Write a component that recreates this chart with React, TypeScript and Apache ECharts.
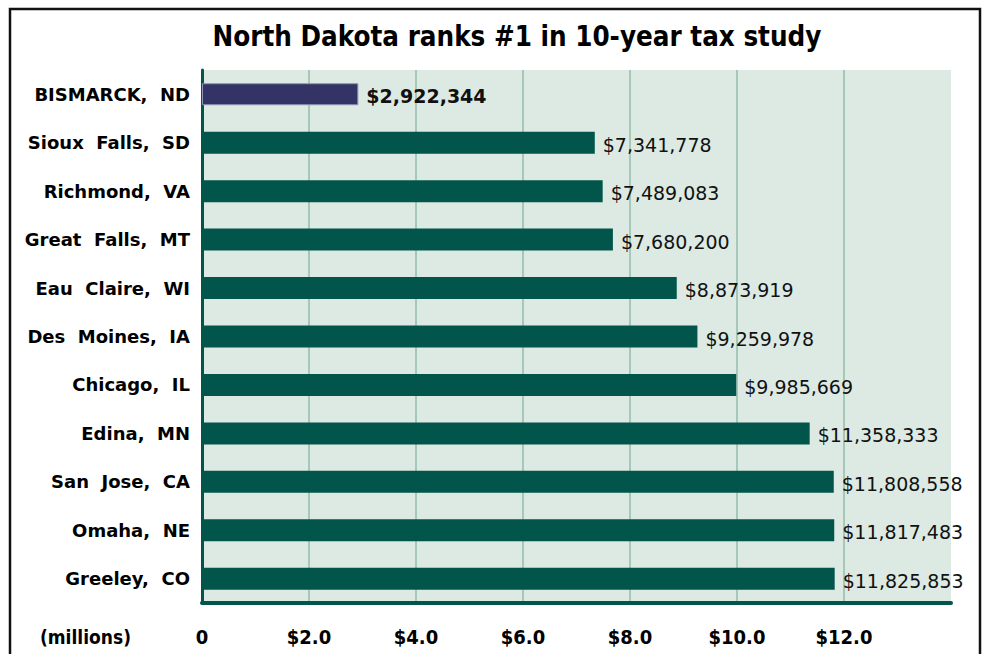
import React, { useEffect, useRef } from "react";
import * as echarts from "echarts";

const cities = [
  "BISMARCK,  ND",
  "Sioux  Falls,  SD",
  "Richmond,  VA",
  "Great  Falls,  MT",
  "Eau  Claire,  WI",
  "Des  Moines,  IA",
  "Chicago,  IL",
  "Edina,  MN",
  "San  Jose,  CA",
  "Omaha,  NE",
  "Greeley,  CO",
];
const taxes = [
  2922344, 7341778, 7489083, 7680200, 8873919, 9259978, 9985669, 11358333,
  11808558, 11817483, 11825853,
];
const titleText = "North Dakota ranks #1 in 10-year tax study";
const unitText = "(millions)";

const condensed = '"Liberation Sans Narrow", "DejaVu Sans Condensed", "Roboto", sans-serif';
const labelFont = '"DejaVu Sans", "Liberation Sans", sans-serif';

export default function App() {
  const ref = useRef<HTMLDivElement>(null);
  useEffect(() => {
    if (!ref.current) return;
    const chart = echarts.init(ref.current, null, { renderer: "svg" });
    const data = taxes.map((v, i) => {
      const item: any = { value: v / 1e6, raw: v };
      if (i === 0) {
        item.itemStyle = { color: "#333366", borderColor: "#8f93b8", borderWidth: 1 };
        item.label = { fontWeight: "bold" };
      }
      return item;
    });
    chart.setOption({
      animation: false,
      backgroundColor: "#ffffff",
      title: {
        text: titleText,
        left: 512,
        textAlign: "center",
        top: 17,
        textStyle: {
          fontFamily: condensed,
          fontWeight: "bold",
          fontSize: 27.5,
          color: "#000",
        },
      },
      graphic: [
        {
          type: "rect",
          shape: { x: 10, y: 9, width: 970, height: 660 },
          style: { fill: "none", stroke: "#111", lineWidth: 2.5 },
          silent: true,
        },
        {
          type: "text",
          x: 40,
          y: 637,
          style: {
            text: unitText,
            fontFamily: condensed,
            fontSize: 19,
            fontWeight: "bold",
            fill: "#000",
            verticalAlign: "middle",
          },
        },
      ],
      grid: {
        left: 202,
        right: 36,
        top: 70,
        bottom: 51,
        show: true,
        backgroundColor: "#dceae3",
        borderWidth: 0,
      },
      xAxis: {
        type: "value",
        min: 0,
        max: 14,
        interval: 2,
        axisLine: { show: true, lineStyle: { color: "#02554a", width: 4 } },
        axisTick: { show: false },
        splitLine: {
          show: true,
          showMinLine: false,
          showMaxLine: false,
          lineStyle: { color: "#94bcaa", width: 1.5 },
        },
        axisLabel: {
          margin: 24,
          showMaxLabel: false,
          fontFamily: condensed,
          fontWeight: "bold",
          fontSize: 20,
          color: "#000",
          formatter: (v: number) => (v === 0 ? "0" : "$" + v.toFixed(1)),
        },
      },
      yAxis: {
        type: "category",
        data: cities,
        inverse: true,
        axisLine: { show: true, onZero: false, lineStyle: { color: "#02554a", width: 3 } },
        axisTick: { show: false },
        axisLabel: {
          margin: 12,
          fontFamily: labelFont,
          fontWeight: "bold",
          fontSize: 18,
          color: "#000",
        },
      },
      series: [
        {
          type: "bar",
          data,
          barWidth: 22,
          itemStyle: { color: "#02554a" },
          label: {
            show: true,
            position: "right",
            distance: 8,
            offset: [0, 2],
            fontFamily: labelFont,
            fontSize: 19,
            color: "#111",
            formatter: (p: any) => "$" + p.data.raw.toLocaleString("en-US"),
          },
        },
      ],
    });
    return () => chart.dispose();
  }, []);
  return (
    <div
      ref={ref}
      style={{ position: "fixed", left: 0, top: 0, width: 987, height: 654 }}
    />
  );
}
